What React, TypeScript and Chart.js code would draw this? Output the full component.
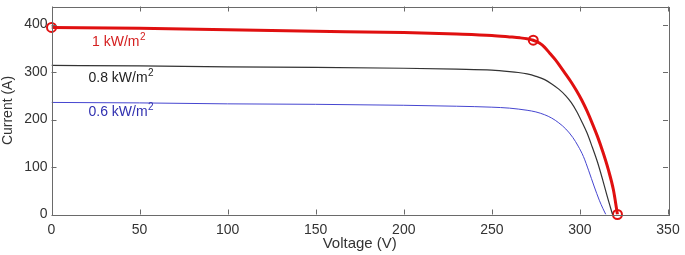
import React, { useEffect, useRef } from "react";
import { Chart, registerables } from "chart.js";

Chart.register(...registerables);

// Voltage (V) / Current (A) readings
const redV = [0, 50, 100, 150, 200, 230, 250, 260, 266, 270, 273.5, 277, 280, 283, 286, 289, 292, 295, 298, 301, 304, 307, 310, 313, 316, 319, 321.3];
const redI = [394, 392, 389, 386, 383, 380, 377, 374, 372, 370, 367, 361, 352, 339, 326, 311, 295, 279, 261, 241, 218, 192, 164, 132, 96, 52, 0];

const blackV = [0, 50, 100, 150, 200, 230, 250, 260, 265, 270, 275, 280, 284, 288, 292, 295, 298, 301, 304, 307, 310, 313, 315.5, 318.5];
const blackI = [314, 313, 311, 310, 308, 306, 304, 301, 299, 296, 291, 284, 275, 264, 250, 236, 218, 196, 172, 142, 110, 72, 38, 0];

const blueV = [0, 50, 100, 150, 200, 230, 250, 260, 265, 270, 275, 280, 284, 288, 292, 296, 299, 302, 305, 308, 311, 313, 314.7];
const blueI = [236, 235, 233, 232, 230, 228, 226, 224, 222, 219.5, 216, 210, 203, 193, 180, 162, 144, 122, 92, 60, 30, 13, 0];

const markerV = [0, 273.5, 321.3];
const markerI = [394, 367, 0];

const xTicks = [0, 50, 100, 150, 200, 250, 300, 350];
const yTicks = [0, 100, 200, 300, 400];

const labelTexts = ["1 kW/m", "0.8 kW/m", "0.6 kW/m"];
const labelV = [23, 21, 21];
const labelI = [362, 287, 215];
const labelColors = ["#d42020", "#222222", "#3030b0"];

const FONT = "'Liberation Sans', Arial, sans-serif";

const toPts = (xs: number[], ys: number[]) => xs.map((x, i) => ({ x, y: ys[i] }));

const boxPlugin = {
  id: "boxTicks",
  afterDraw(chart: any) {
    const { ctx, chartArea: a, scales } = chart;
    const xs = scales.x;
    const ys = scales.y;
    ctx.save();
    ctx.strokeStyle = "#6a6a6a";
    ctx.lineWidth = 1;
    ctx.strokeRect(Math.round(a.left) + 0.5, Math.round(a.top) + 0.5, Math.round(a.right - a.left), Math.round(a.bottom - a.top));
    const tl = 5;
    ctx.beginPath();
    xTicks.forEach((v) => {
      const px = Math.round(xs.getPixelForValue(v)) + 0.5;
      ctx.moveTo(px, a.bottom);
      ctx.lineTo(px, a.bottom - tl);
      ctx.moveTo(px, a.top);
      ctx.lineTo(px, a.top + tl);
    });
    yTicks.forEach((v) => {
      const py = Math.round(ys.getPixelForValue(v)) + 0.5;
      ctx.moveTo(a.left, py);
      ctx.lineTo(a.left + tl, py);
      ctx.moveTo(a.right, py);
      ctx.lineTo(a.right - tl, py);
    });
    ctx.stroke();

    // curve labels
    labelTexts.forEach((t, i) => {
      const px = xs.getPixelForValue(labelV[i]);
      const py = ys.getPixelForValue(labelI[i]);
      ctx.fillStyle = labelColors[i];
      ctx.font = `14px ${FONT}`;
      ctx.textBaseline = "middle";
      ctx.textAlign = "left";
      ctx.fillText(t, px, py);
      const w = ctx.measureText(t).width;
      ctx.font = `10px ${FONT}`;
      ctx.fillText("2", px + w + 0.5, py - 5);
    });
    ctx.restore();
  },
};

const zeroPad = (s: any) => {
  s.paddingTop = 0;
  s.paddingBottom = 0;
  s.paddingLeft = 0;
  s.paddingRight = 0;
};

export default function App() {
  const ref = useRef<HTMLCanvasElement>(null);
  useEffect(() => {
    document.body.style.margin = "0";
    const chart = new Chart(ref.current!, {
      type: "line",
      data: {
        datasets: [
          {
            data: toPts(blueV, blueI),
            borderColor: "#4646d0",
            borderWidth: 1,
            pointRadius: 0,
            cubicInterpolationMode: "monotone",
          },
          {
            data: toPts(blackV, blackI),
            borderColor: "#333333",
            borderWidth: 1.2,
            pointRadius: 0,
            cubicInterpolationMode: "monotone",
          },
          {
            data: toPts(redV, redI),
            borderColor: "#e01010",
            borderWidth: 3,
            pointRadius: 0,
            cubicInterpolationMode: "monotone",
          },
          {
            data: toPts(markerV, markerI),
            showLine: false,
            borderColor: "#e01010",
            backgroundColor: "rgba(0,0,0,0)",
            pointRadius: 4.5,
            pointBorderWidth: 2,
            clip: false,
          },
        ],
      },
      options: {
        responsive: false,
        animation: false,
        devicePixelRatio: 1,
        layout: { padding: { top: 3, right: 17, left: 0, bottom: 0 } },
        plugins: { legend: { display: false }, tooltip: { enabled: false } },
        scales: {
          x: {
            type: "linear",
            min: 0,
            max: 350,
            grid: { display: false, drawTicks: false },
            border: { display: false },
            afterBuildTicks: (s: any) => {
              s.ticks = xTicks.map((v) => ({ value: v }));
            },
            afterFit: (s: any) => {
              s.height = 40.5;
              zeroPad(s);
            },
            ticks: { color: "#333", font: { size: 14, family: FONT }, padding: 7, maxRotation: 0, autoSkip: false },
            title: { display: true, text: "Voltage (V)", color: "#333", font: { size: 15, family: FONT }, padding: { top: 0, bottom: 2 } },
          },
          y: {
            type: "linear",
            min: 0,
            max: 438,
            grid: { display: false, drawTicks: false },
            border: { display: false },
            afterBuildTicks: (s: any) => {
              s.ticks = yTicks.map((v) => ({ value: v }));
            },
            afterFit: (s: any) => {
              s.width = 51.5;
              zeroPad(s);
            },
            ticks: { color: "#333", font: { size: 14, family: FONT }, padding: 4, autoSkip: false },
            title: { display: true, text: "Current (A)", color: "#333", font: { size: 14, family: FONT }, padding: { top: 0, bottom: 2 } },
          },
        },
      },
      plugins: [boxPlugin],
    } as any);
    return () => chart.destroy();
  }, []);
  return (
    <div style={{ width: 685, height: 255, background: "#fff" }}>
      <canvas ref={ref} width={685} height={255} />
    </div>
  );
}
